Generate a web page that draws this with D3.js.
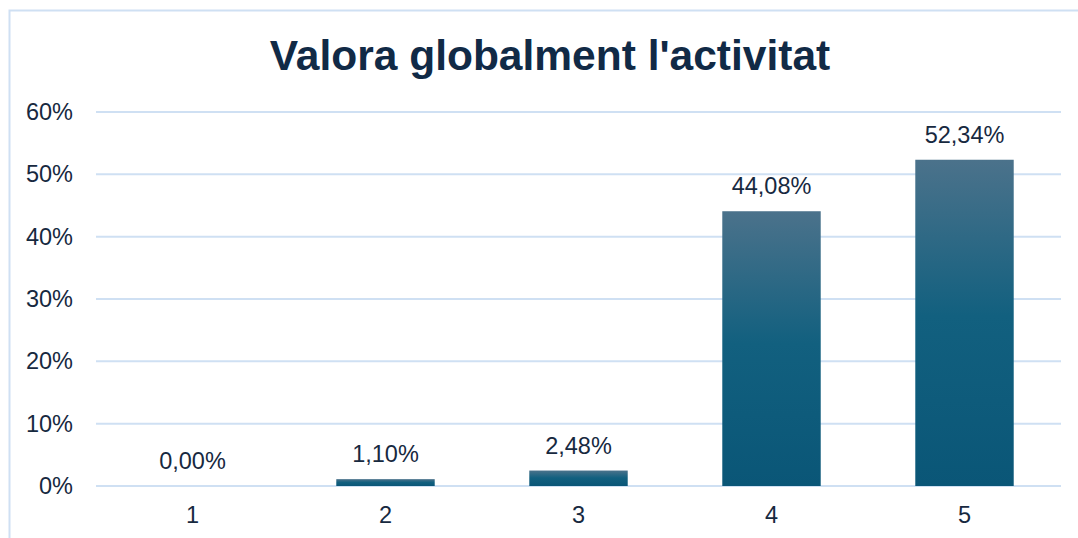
<!DOCTYPE html>
<meta charset="utf-8">
<style>
body { margin: 0; overflow: hidden; background: #fff; }
text { font-family: "Liberation Sans", Arial, sans-serif; fill: #17293f; }
</style>
<svg width="1078" height="538"></svg>
<script src="https://cdn.jsdelivr.net/npm/d3@7"></script>
<script>
const categories = ["1", "2", "3", "4", "5"];
const values = [0.0, 1.10, 2.48, 44.08, 52.34];
const yTicks = [0, 10, 20, 30, 40, 50, 60];
const title = "Valora globalment l'activitat";

const svg = d3.select("svg");

// chart frame
svg.append("rect")
  .attr("x", 9.5).attr("y", 10.5)
  .attr("width", 1100).attr("height", 560)
  .attr("fill", "none").attr("stroke", "#cfe0f3").attr("stroke-width", 2);

const defs = svg.append("defs");
const grad = defs.append("linearGradient")
  .attr("id", "barGrad").attr("x1", 0).attr("y1", 0).attr("x2", 0).attr("y2", 1);
grad.append("stop").attr("offset", "0%").attr("stop-color", "#4b728b");
grad.append("stop").attr("offset", "48%").attr("stop-color", "#12607f");
grad.append("stop").attr("offset", "100%").attr("stop-color", "#0a5677");

const x = d3.scaleBand().domain(categories).range([96, 1061]).paddingInner(0.49).paddingOuter(0.245);
const y = d3.scaleLinear().domain([0, 60]).range([486, 112]);

svg.append("text")
  .attr("x", 550).attr("y", 70)
  .attr("text-anchor", "middle")
  .attr("font-size", 42.5).attr("font-weight", "bold")
  .style("fill", "#112a46")
  .text(title);

// gridlines
svg.append("g").selectAll("line")
  .data(yTicks)
  .join("line")
  .attr("x1", 96).attr("x2", 1061)
  .attr("y1", d => y(d)).attr("y2", d => y(d))
  .attr("stroke", "#cfe0f3").attr("stroke-width", 2);

// y tick labels
svg.append("g").selectAll("text")
  .data(yTicks)
  .join("text")
  .attr("x", 73).attr("y", d => y(d) + 8)
  .attr("text-anchor", "end")
  .attr("font-size", 23.5)
  .text(d => d + "%");

// bars
svg.append("g").selectAll("rect")
  .data(values)
  .join("rect")
  .attr("x", (d, i) => x(categories[i]))
  .attr("width", x.bandwidth())
  .attr("y", d => y(d))
  .attr("height", d => y(0) - y(d))
  .attr("fill", "url(#barGrad)");

// value labels
svg.append("g").selectAll("text")
  .data(values)
  .join("text")
  .attr("x", (d, i) => x(categories[i]) + x.bandwidth() / 2)
  .attr("y", d => y(d) - 17)
  .attr("text-anchor", "middle")
  .attr("font-size", 23.5)
  .text(d => d.toFixed(2).replace(".", ",") + "%");

// x labels
svg.append("g").selectAll("text")
  .data(categories)
  .join("text")
  .attr("x", d => x(d) + x.bandwidth() / 2)
  .attr("y", 523)
  .attr("text-anchor", "middle")
  .attr("font-size", 23.5)
  .text(d => d);
</script>
